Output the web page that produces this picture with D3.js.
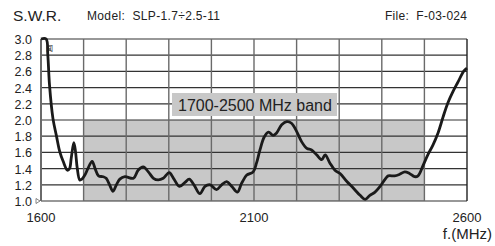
<!DOCTYPE html>
<html>
<head>
<meta charset="utf-8">
<script src="https://cdn.jsdelivr.net/npm/d3@7"></script>
<style>
  body { margin: 0; background: #fff; }
  text { font-family: "Liberation Sans", Arial, sans-serif; fill: #222; }
</style>
</head>
<body>
<div id="content"></div>
<script>
const svgWidth = 495, svgHeight = 246;

// frequency (MHz) and S.W.R.
const freqs = [1600, 1612, 1616, 1620, 1628, 1636, 1644, 1652, 1662, 1667, 1671, 1677, 1681, 1685,
  1691, 1696, 1703, 1710, 1720, 1727, 1735, 1746, 1753, 1761, 1769, 1777, 1785, 1797, 1817,
  1828, 1840, 1852, 1864, 1875, 1887, 1901, 1911, 1925, 1938, 1948, 1959, 1973, 1985, 1997,
  2012, 2024, 2036, 2048, 2061, 2071, 2083, 2098, 2106, 2114, 2124, 2134, 2145, 2153, 2165,
  2177, 2188, 2200, 2212, 2224, 2235, 2247, 2259, 2267, 2278, 2290, 2302, 2318, 2333, 2349,
  2361, 2372, 2384, 2396, 2408, 2415, 2430, 2442, 2454, 2465, 2477, 2485, 2497, 2508, 2520,
  2532, 2544, 2555, 2567, 2579, 2592, 2600];
const swr = [3.0, 3.0, 2.80, 2.43, 2.02, 1.81, 1.61, 1.49, 1.38, 1.40, 1.53, 1.72, 1.61, 1.41,
  1.26, 1.27, 1.32, 1.40, 1.49, 1.40, 1.31, 1.30, 1.28, 1.20, 1.12, 1.20, 1.27, 1.30, 1.28,
  1.38, 1.42, 1.36, 1.28, 1.26, 1.28, 1.35, 1.28, 1.18, 1.23, 1.27, 1.20, 1.09, 1.18, 1.20,
  1.14, 1.20, 1.24, 1.18, 1.11, 1.22, 1.32, 1.36, 1.47, 1.63, 1.79, 1.85, 1.81, 1.84, 1.94,
  1.98, 1.96, 1.86, 1.73, 1.65, 1.63, 1.57, 1.51, 1.57, 1.47, 1.38, 1.34, 1.24, 1.16, 1.07,
  1.02, 1.07, 1.11, 1.18, 1.27, 1.31, 1.31, 1.33, 1.36, 1.34, 1.30, 1.31, 1.44, 1.57, 1.69,
  1.84, 2.04, 2.21, 2.35, 2.47, 2.60, 2.64];

const yTicks = [1.0, 1.2, 1.4, 1.6, 1.8, 2.0, 2.2, 2.4, 2.6, 2.8, 3.0];
const xGrid = [1600, 1700, 1800, 1900, 2000, 2100, 2200, 2300, 2400, 2500, 2600];
const xLabels = [1600, 2100, 2600];
const band = [1700, 2500];
const bandTop = 2.0;

const plotL = 41, plotR = 467, plotT = 39, plotB = 201;

const x = d3.scaleLinear().domain([1600, 2600]).range([plotL, plotR]);
const y = d3.scaleLinear().domain([1.0, 3.0]).range([plotB, plotT]);

const svg = d3.select("#content").append("svg")
  .attr("width", svgWidth)
  .attr("height", svgHeight);

// shaded band
svg.append("rect")
  .attr("x", x(band[0])).attr("y", y(bandTop))
  .attr("width", x(band[1]) - x(band[0]))
  .attr("height", y(1.0) - y(bandTop))
  .attr("fill", "#c8c8c8");

// horizontal grid
svg.selectAll("line.h")
  .data(yTicks).enter().append("line")
  .attr("class", "h")
  .attr("x1", plotL).attr("x2", plotR)
  .attr("y1", d => y(d)).attr("y2", d => y(d))
  .attr("stroke", "#333").attr("stroke-width", 1.2);

// vertical grid
svg.selectAll("line.v")
  .data(xGrid).enter().append("line")
  .attr("class", "v")
  .attr("x1", d => x(d)).attr("x2", d => x(d))
  .attr("y1", plotT).attr("y2", plotB)
  .attr("stroke", d => d === 2600 ? "#222" : "#6a6a6a")
  .attr("stroke-width", d => d === 1600 ? 2 : 1.4);

// band label box
const lbl = svg.append("g");
lbl.append("rect")
  .attr("x", 172).attr("y", 93).attr("width", 165).attr("height", 23)
  .attr("fill", "#c8c8c8");
lbl.append("text")
  .attr("x", 178).attr("y", 110.5)
  .attr("font-size", 16)
  .text("1700-2500 MHz band");

// curve
const line = d3.line()
  .x((d, i) => x(freqs[i]))
  .y(d => y(d))
  .curve(d3.curveCatmullRom.alpha(0.5));

svg.append("path")
  .datum(swr)
  .attr("d", line)
  .attr("fill", "none")
  .attr("stroke", "#1a1a1a")
  .attr("stroke-width", 2.8)
  .attr("stroke-linejoin", "round");

// y tick labels
svg.selectAll("text.yl")
  .data(yTicks).enter().append("text")
  .attr("class", "yl")
  .attr("x", 32).attr("y", d => y(d) + 5)
  .attr("text-anchor", "end")
  .attr("font-size", 12.5)
  .text(d => d.toFixed(1));

// small marker at 1.0
svg.append("path")
  .attr("d", `M${plotL - 5},${plotB - 2.5} L${plotL - 1},${plotB} L${plotL - 5},${plotB + 2.5} Z`)
  .attr("fill", "none").attr("stroke", "#555").attr("stroke-width", 0.7);

// x tick labels
svg.selectAll("text.xl")
  .data(xLabels).enter().append("text")
  .attr("class", "xl")
  .attr("x", d => x(d)).attr("y", 222)
  .attr("text-anchor", "middle")
  .attr("font-size", 13)
  .text(d => d);

svg.append("text")
  .attr("x", 492).attr("y", 239)
  .attr("text-anchor", "end")
  .attr("font-size", 15)
  .text("f.(MHz)");

// header
svg.append("text")
  .attr("x", 13).attr("y", 20.5)
  .attr("font-size", 15.5)
  .text("S.W.R.");
svg.append("text")
  .attr("x", 87).attr("y", 19.5)
  .attr("font-size", 12)
  .attr("fill", "#333")
  .attr("xml:space", "preserve")
  .attr("textLength", 133)
  .text("Model:  SLP-1.7\u00f72.5-11");
svg.append("text")
  .attr("x", 385).attr("y", 19.5)
  .attr("font-size", 12)
  .attr("fill", "#333")
  .attr("xml:space", "preserve")
  .attr("textLength", 82)
  .text("File:  F-03-024");

// tiny mark in the corner
svg.append("text")
  .attr("x", 46).attr("y", 51)
  .attr("font-size", 7)
  .style("font-family", "'Noto Sans CJK SC'")
  .text("闻");
</script>
</body>
</html>
